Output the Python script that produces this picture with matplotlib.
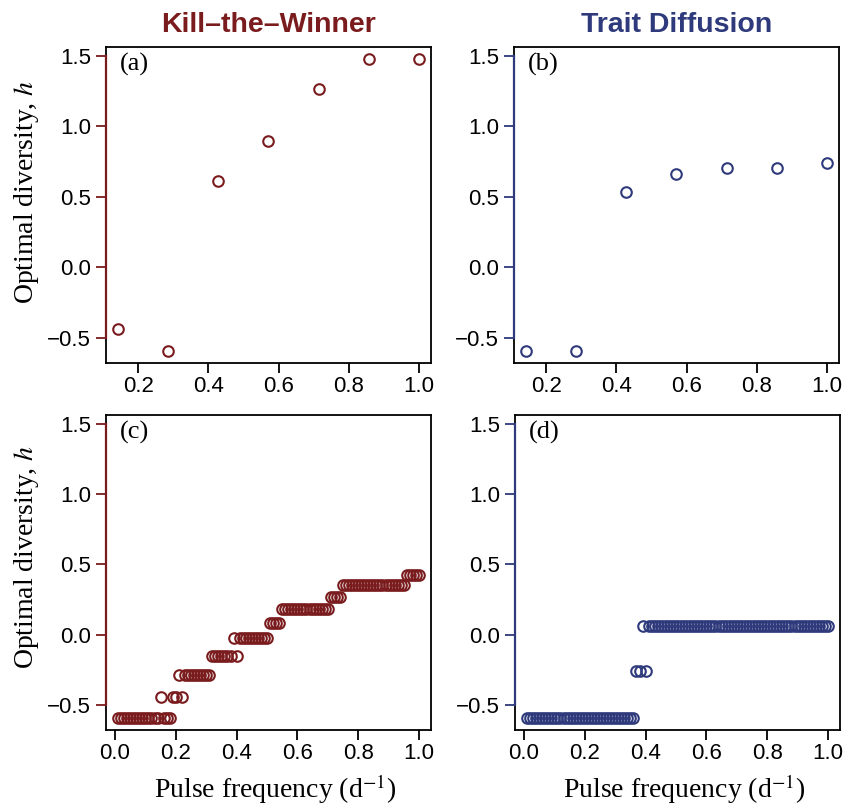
import numpy as np
import matplotlib
matplotlib.use('Agg')
import matplotlib.pyplot as plt

# -------- Colours --------
KTW_COLOR = '#7a1c1e'   # Kill-the-Winner
TD_COLOR = '#2e3a7b'    # Trait Diffusion

# -------- Data: coarse pulse frequencies (top row) --------
pulse_freq_coarse = [1/7, 2/7, 3/7, 4/7, 5/7, 6/7, 7/7]
h_ktw_coarse = [-0.435, -0.595, 0.615, 0.895, 1.265, 1.48, 1.48]
h_td_coarse = [-0.595, -0.595, 0.535, 0.665, 0.705, 0.705, 0.74]

# -------- Data: fine pulse frequencies (bottom row), 0.01 .. 1.00 --------
pulse_freq_fine = np.arange(1, 101) / 100
h_ktw_fine = (
    [-0.595] * 10
    + [-0.595, -0.595, -0.595, -0.595, -0.44, -0.595, -0.595, -0.595, -0.44, -0.44]
    + [-0.285, -0.44] + [-0.285] * 8
    + [-0.285] + [-0.155] * 7 + [-0.025, -0.155]
    + [-0.025] * 10
    + [0.08] * 4 + [0.18] * 6
    + [0.18] * 10
    + [0.27] * 4 + [0.355] * 6
    + [0.355] * 10
    + [0.355] * 5 + [0.425] * 5
)
h_td_fine = (
    [-0.595] * 30
    + [-0.595] * 6 + [-0.26, -0.26, 0.065, -0.26]
    + [0.065] * 60
)

# -------- Axis settings --------
Y_LIM = (-0.678, 1.563)
Y_TICKS = [-0.5, 0.0, 0.5, 1.0, 1.5]
XTICKS_COARSE = [0.2, 0.4, 0.6, 0.8, 1.0]
XTICKS_FINE = [0.0, 0.2, 0.4, 0.6, 0.8, 1.0]

plt.rcParams['font.family'] = ['Liberation Sans', 'DejaVu Sans']
plt.rcParams['mathtext.fontset'] = 'stix'

W, H = 845, 807
fig = plt.figure(figsize=(W / 100, H / 100), dpi=100)


def panel(left, top, right, bottom):
    return fig.add_axes([left / W, 1 - bottom / H, (right - left) / W, (bottom - top) / H])


ax_a = panel(106, 47, 431, 363)
ax_b = panel(514, 47, 839, 363)
ax_c = panel(106, 415, 431, 730)
ax_d = panel(515, 415, 840, 730)


def style(ax, x, y, color, xticks, letter):
    ax.plot(x, y, 'o', mfc='none', mec=color, ms=7.6, mew=1.5, clip_on=False, zorder=3)
    ax.set_ylim(*Y_LIM)
    ax.set_yticks(Y_TICKS)
    ax.set_yticklabels(['\u22120.5', '0.0', '0.5', '1.0', '1.5'])
    ax.set_xticks(xticks)
    ax.set_xticklabels(['{:.1f}'.format(t) for t in xticks])
    for sp in ax.spines.values():
        sp.set_linewidth(1.3)
        sp.set_color('black')
    # coloured y-axis line from first to last tick
    ax.plot([0, 0], [Y_TICKS[0], Y_TICKS[-1]], transform=ax.get_yaxis_transform(),
            color=color, lw=1.6, clip_on=False, zorder=5)
    ax.tick_params(axis='y', colors=color, labelcolor='black', length=7.2, width=1.3,
                   pad=3.5, labelsize=16)
    ax.tick_params(axis='x', colors='black', length=7, width=1.3, pad=2.5, labelsize=16)
    ax.text(14 / 325, 0.982, letter, transform=ax.transAxes, ha='left', va='top',
            family='Liberation Serif', fontsize=19)


style(ax_a, pulse_freq_coarse, h_ktw_coarse, KTW_COLOR, XTICKS_COARSE, '(a)')
style(ax_b, pulse_freq_coarse, h_td_coarse, TD_COLOR, XTICKS_COARSE, '(b)')
style(ax_c, pulse_freq_fine, h_ktw_fine, KTW_COLOR, XTICKS_FINE, '(c)')
style(ax_d, pulse_freq_fine, h_td_fine, TD_COLOR, XTICKS_FINE, '(d)')

for ax in (ax_a, ax_b):
    ax.set_xlim(1/7 - 0.0343, 1 + 0.0343)
for ax in (ax_c, ax_d):
    ax.set_xlim(0.01 - 0.0396, 1 + 0.0396)

# titles
ax_a.set_title('Kill\u2013the\u2013Winner', color=KTW_COLOR, fontsize=20.5,
               fontweight='bold', pad=10.8)
ax_b.set_title('Trait Diffusion', color=TD_COLOR, fontsize=20.5,
               fontweight='bold', pad=10.8)

# axis labels
for ax, ymid in ((ax_a, (363 - 192) / 316), (ax_c, (730 - 557) / 315)):
    ax.set_ylabel('Optimal diversity, $h$', family='Liberation Serif', fontsize=20)
    ax.yaxis.set_label_coords((26.5 - 106) / 325, ymid)
    ax.yaxis.label.set_va('center')
for ax in (ax_c, ax_d):
    ax.set_xlabel('Pulse frequency (d$^{-1}$)', family='Liberation Serif', fontsize=20)
    ax.xaxis.set_label_coords(0.52, (730 - 789) / 315)
    ax.xaxis.label.set_va('center')

fig.savefig('out.png', dpi=100)
